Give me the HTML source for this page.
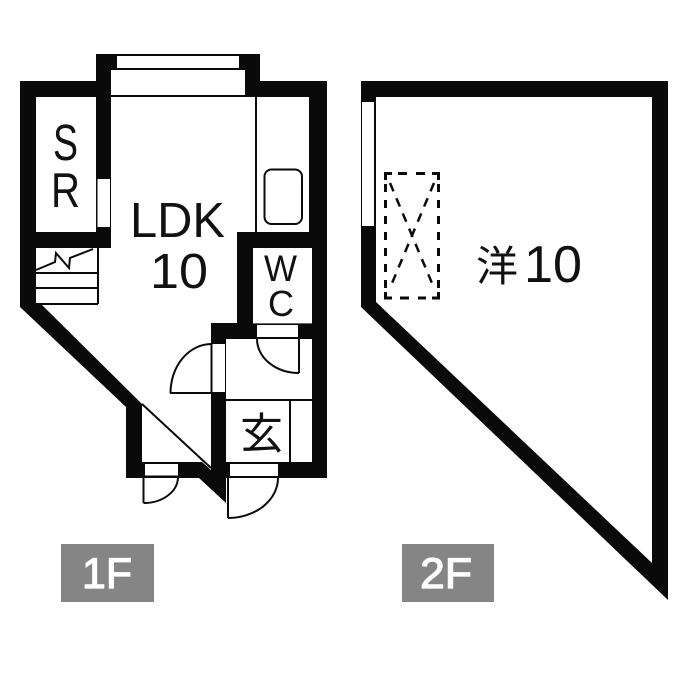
<!DOCTYPE html>
<html>
<head>
<meta charset="utf-8">
<style>
html,body{margin:0;padding:0;background:#fff;}
svg{display:block;}
text{font-family:"Liberation Sans","Noto Sans CJK JP",sans-serif;fill:#111;}
</style>
</head>
<body>
<svg width="700" height="700" viewBox="0 0 700 700" xmlns="http://www.w3.org/2000/svg">
<rect width="700" height="700" fill="#fff"/>

<!-- 1F walls -->
<polygon fill="#0a0a0a" points="20,81 96,81 96,54 260,54 260,81 327,81 327,478 226,478 226,503 199,478 126,478 126,407 20,307"/>
<!-- 1F rooms -->
<g fill="#fff">
<rect x="117" y="56" width="122" height="12"/>
<rect x="111" y="70" width="134" height="25"/>
<rect x="36" y="97" width="60" height="135"/>
<rect x="97.500" y="179" width="12.500" height="48"/>
<polygon points="111,97 309,97 309,232 237,232 237,323 211,323 211,462 142,462 142,404 42,305 36,305 36,248 111,248"/>
<rect x="253" y="248" width="59" height="75"/>
<polygon points="226,339 312,339 312,462 226,462"/>
<rect x="257" y="325" width="41" height="12"/>
<rect x="212" y="344" width="13" height="48"/>
<polygon points="202,462 211,462 211,470"/>
<rect x="145" y="464" width="33" height="11.500"/>
<rect x="230" y="464" width="48" height="12"/>
</g>

<!-- thin lines -->
<g fill="none" stroke="#0a0a0a" stroke-width="2">
<line x1="256" y1="97" x2="256" y2="232"/>
<rect x="264.500" y="169.500" width="37.500" height="54.500" rx="7" ry="7"/>
<!-- stairs -->
<line x1="98" y1="248" x2="98" y2="304"/>
<line x1="36" y1="273" x2="98" y2="273"/>
<line x1="36" y1="288" x2="98" y2="288"/>
<line x1="36" y1="304" x2="98" y2="304"/>
<polyline points="36,270 55,262 56,253 69,268 70,258 93,249"/>
<!-- entry -->
<line x1="226" y1="400" x2="312" y2="400"/>
<line x1="290" y1="400" x2="290" y2="462"/>
<!-- diagonal partition -->
<line x1="142" y1="404" x2="211" y2="468"/>
<!-- LDK door -->
<line x1="170" y1="393" x2="212" y2="393"/>
<path d="M170.500,393 A41,49 0 0 1 212,344"/>
<line x1="211.500" y1="344" x2="211.500" y2="392"/>
<!-- WC door -->
<line x1="299" y1="338" x2="299" y2="373"/>
<path d="M257,339 A42,34 0 0 0 299,373"/>
<!-- entry doors -->
<line x1="143.500" y1="476" x2="143.500" y2="503"/>
<path d="M143.500,503 A34,26 0 0 0 178,478"/>
<line x1="228" y1="478" x2="228" y2="518"/>
<path d="M228,518 A50,40 0 0 0 278,478"/>
</g>
<line x1="253" y1="323.500" x2="312" y2="323.500" stroke="#666" stroke-width="1"/>

<!-- 1F labels -->
<text x="53" y="160" font-size="51" textLength="25" lengthAdjust="spacingAndGlyphs">S</text>
<text x="51" y="207" font-size="49" textLength="29" lengthAdjust="spacingAndGlyphs">R</text>
<text x="130" y="237" font-size="49" textLength="95" lengthAdjust="spacingAndGlyphs">LDK</text>
<text x="150" y="288" font-size="49" textLength="58" lengthAdjust="spacingAndGlyphs">10</text>
<text x="264" y="281" font-size="37" textLength="33" lengthAdjust="spacingAndGlyphs">W</text>
<text x="268" y="316" font-size="36" textLength="26" lengthAdjust="spacingAndGlyphs">C</text>
<text x="240" y="449" font-size="43" font-family="Noto Sans CJK JP">玄</text>

<!-- 2F walls -->
<path fill="#0a0a0a" fill-rule="evenodd" d="M361,81 L668,81 L668,600 L361,307 Z M376,97 L652,97 L652,563 L376,302 Z"/>
<rect x="362" y="102" width="12" height="124" fill="#fff"/>

<!-- 2F void -->
<g fill="none" stroke="#0a0a0a" stroke-width="3">
<path d="M385.500,180 V173.500 H392"/>
<path d="M438.500,180 V173.500 H432"/>
<path d="M385.500,292 V298 H392"/>
<path d="M438.500,292 V298 H432"/>
<line x1="398" y1="173.500" x2="426" y2="173.500" stroke-dasharray="9 9"/>
<line x1="400" y1="298" x2="426" y2="298" stroke-dasharray="9 9"/>
<line x1="385.500" y1="184" x2="385.500" y2="288" stroke-dasharray="8 8"/>
<line x1="438.500" y1="184" x2="438.500" y2="288" stroke-dasharray="8 8"/>
<g stroke-width="2.500">
<line x1="390" y1="183" x2="434" y2="288" stroke-dasharray="9 7.500"/>
<line x1="434" y1="183" x2="390" y2="288" stroke-dasharray="9 7.500"/>
</g>
</g>

<!-- 2F label -->
<text x="476" y="281" font-size="42" font-family="Noto Sans CJK JP">洋</text>
<text x="524" y="282" font-size="52" textLength="58" lengthAdjust="spacingAndGlyphs">10</text>

<!-- Floor tags -->
<rect x="61" y="544" width="93" height="58" fill="#858585"/>
<rect x="402" y="544" width="92" height="58" fill="#858585"/>
<text x="82" y="588" font-size="43" style="fill:#fff;stroke:#fff;stroke-width:1.2" textLength="50" lengthAdjust="spacingAndGlyphs">1F</text>
<text x="420" y="588" font-size="43" style="fill:#fff;stroke:#fff;stroke-width:1.2" textLength="52" lengthAdjust="spacingAndGlyphs">2F</text>
</svg>
</body>
</html>
